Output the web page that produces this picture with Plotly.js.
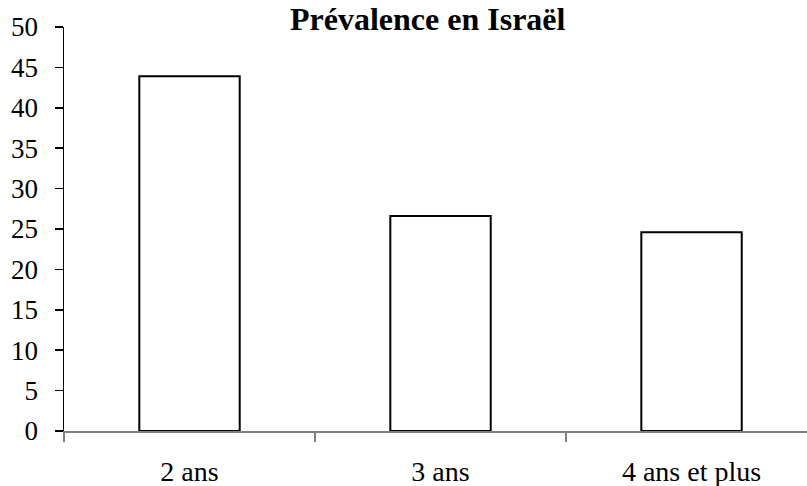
<!DOCTYPE html>
<html>
<head>
<meta charset="utf-8">
<script src="https://cdn.plot.ly/plotly-3.0.1.min.js"></script>
<style>html,body{margin:0;padding:0;background:#fff;}#chart{width:807px;height:486px;}</style>
</head>
<body>
<div id="chart"></div>
<script>
var categories = ["2 ans", "3 ans", "4 ans et plus"];
var values = [43.9, 26.6, 24.6];
var yTicks = [0, 5, 10, 15, 20, 25, 30, 35, 40, 45, 50];
var titleText = "Prévalence en Israël";

var trace = {
  type: "bar",
  x: categories,
  y: values,
  marker: {color: "#ffffff", line: {color: "#000000", width: 2}},
  hoverinfo: "x+y"
};

var serif = "'Liberation Serif', 'Times New Roman', serif";

var layout = {
  width: 807,
  height: 486,
  margin: {l: 64, r: 0, t: 27, b: 55},
  paper_bgcolor: "#ffffff",
  plot_bgcolor: "#ffffff",
  bargap: 0.6,
  showlegend: false,
  font: {family: serif, size: 27, color: "#000000"},
  title: {
    text: "<b>" + titleText + "</b>",
    x: 0.53, xref: "container", xanchor: "center",
    y: 0.962, yref: "container", yanchor: "middle",
    font: {family: serif, size: 32, color: "#000000"}
  },
  xaxis: {
    type: "category",
    range: [-0.5, 2.46],
    showgrid: false,
    zeroline: false,
    showline: true,
    linecolor: "#808080",
    linewidth: 2,
    ticks: "outside",
    tickson: "boundaries",
    ticklen: 9,
    tickcolor: "#808080",
    tickwidth: 1.5,
    ticklabelstandoff: 14,
    tickfont: {family: serif, size: 28, color: "#000000"},
    fixedrange: true
  },
  yaxis: {
    range: [0, 50],
    tickvals: yTicks,
    ticktext: yTicks.map(String),
    showgrid: false,
    zeroline: false,
    showline: true,
    linecolor: "#000000",
    linewidth: 1.5,
    ticks: "outside",
    ticklen: 8,
    tickcolor: "#000000",
    tickwidth: 1.5,
    ticklabelstandoff: 11,
    tickfont: {family: serif, size: 27, color: "#000000"},
    fixedrange: true
  }
};

Plotly.newPlot("chart", [trace], layout, {displayModeBar: false, staticPlot: true});
</script>
</body>
</html>
